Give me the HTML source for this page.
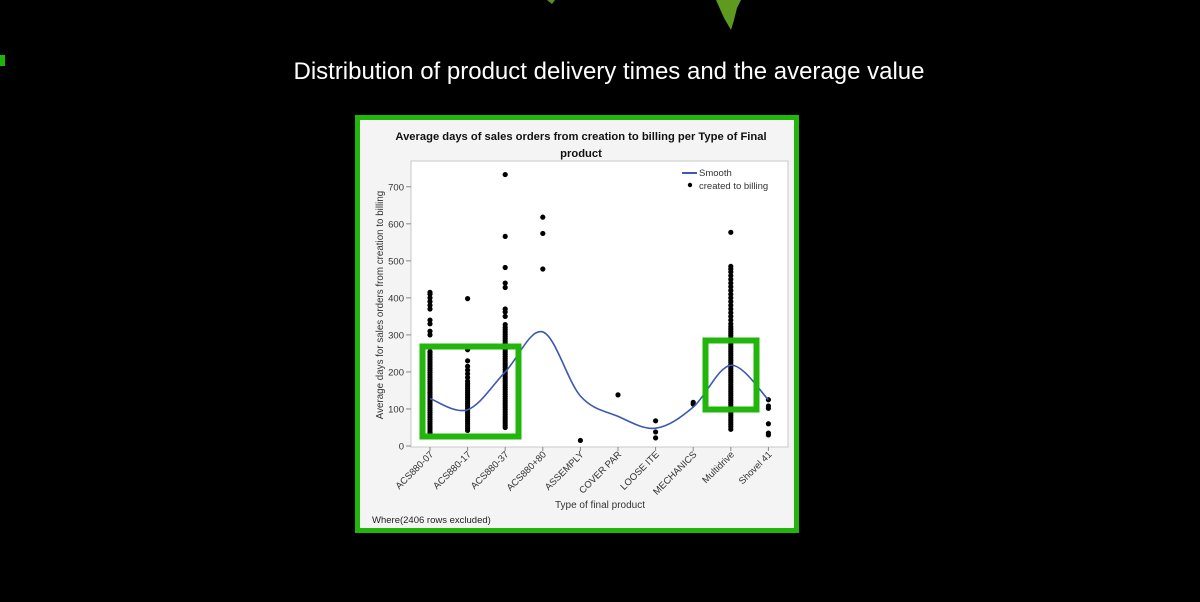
<!DOCTYPE html>
<html><head><meta charset="utf-8"><style>
html,body{margin:0;padding:0;background:#000;width:1200px;height:602px;overflow:hidden;font-family:"Liberation Sans",sans-serif}
</style></head><body>
<svg width="1200" height="602" xmlns="http://www.w3.org/2000/svg">
<rect x="0" y="0" width="1200" height="602" fill="#000"/>
<path d="M547,0 L555,0 L552,4 Z" fill="#5f8f22"/>
<path d="M716,0 L741,0 L737,8 L734,20 L731,30 L724,18 Z" fill="#5f9a20"/>
<rect x="0" y="55" width="5" height="11" fill="#1fb30b"/>
<text x="609" y="79" text-anchor="middle" fill="#fff" font-size="24">Distribution of product delivery times and the average value</text>
<rect x="357.5" y="117.5" width="439" height="413" fill="#f4f4f4" stroke="#22b50c" stroke-width="5"/>
<text x="581" y="140" text-anchor="middle" font-size="11.2" font-weight="bold" fill="#111">Average days of sales orders from creation to billing per Type of Final</text>
<text x="581" y="157" text-anchor="middle" font-size="11.2" font-weight="bold" fill="#111">product</text>
<rect x="411" y="161" width="377" height="286" fill="#fff" stroke="#c8c8c8"/>
<g id="yaxis"></g>
<g id="xaxis"></g>
<g id="dots"></g>
<path id="smooth" fill="none" stroke="#3c58b0" stroke-width="1.6"/>
<text x="383" y="305" transform="rotate(-90 383 305)" text-anchor="middle" font-size="9.8" fill="#333">Average days for sales orders from creation to billing</text>
<text x="600" y="508" text-anchor="middle" font-size="10" fill="#333">Type of final product</text>
<text x="372" y="523" font-size="9.5" fill="#222">Where(2406 rows excluded)</text>
<g>
<line x1="682" y1="173" x2="697" y2="173" stroke="#3c58b0" stroke-width="2"/>
<text x="699" y="176" font-size="9.5" fill="#333">Smooth</text>
<circle cx="690" cy="185" r="2.2" fill="#000"/>
<text x="699" y="189" font-size="9.5" fill="#333">created to billing</text>
</g>
<rect x="422.5" y="346.5" width="96" height="90" fill="none" stroke="#22b50c" stroke-width="6"/>
<rect x="705.5" y="340.5" width="51" height="69" fill="none" stroke="#22b50c" stroke-width="6"/>
</svg>
<script>
const categories=["ACS880-07","ACS880-17","ACS880-37","ACS880+80","ASSEMPLY","COVER PAR","LOOSE ITE","MECHANICS","Multidrive","Shovel 41"];
const smoothValues=[128,98,200,308,135,80,48,105,218,125];
const yTicks=[0,100,200,300,400,500,600,700];
const pts0=[30,36,42,48,54,60,66,72,78,84,90,96,102,108,114,120,126,132,138,144,150,156,162,168,174,180,186,192,198,204,210,216,222,228,234,240,246,252,255,300,310,330,340,370,380,390,400,410,415];
const pts1=[42,48,54,60,66,72,78,84,90,96,102,108,114,120,126,132,138,144,150,156,162,168,175,185,195,205,215,230,260,398];
const pts2=[50,56,62,68,74,80,86,92,98,104,110,116,122,128,134,140,146,152,158,164,170,176,182,188,194,200,206,212,218,224,230,236,242,248,254,260,266,272,278,284,290,296,302,308,314,320,328,350,362,370,428,440,482,566,733];
const pts3=[478,574,618];
const pts4=[15];
const pts5=[138];
const pts6=[22,38,68];
const pts7=[113,118];
const pts8=[45,52,58,64,70,76,82,88,94,100,106,112,118,124,130,136,142,148,154,160,166,172,178,184,190,196,202,208,214,220,226,232,238,244,250,256,262,268,274,280,286,292,298,304,310,316,322,330,340,350,360,370,380,390,400,410,420,430,440,450,460,470,478,485,577];
const pts9=[30,35,60,102,108,125];
const allPts=[pts0,pts1,pts2,pts3,pts4,pts5,pts6,pts7,pts8,pts9];
const NS="http://www.w3.org/2000/svg";
function xPos(i){return 430+i*37.6;}
function yPos(v){return 446-v*0.3703;}
const ya=document.getElementById('yaxis');
yTicks.forEach(t=>{
 const l=document.createElementNS(NS,'line');
 l.setAttribute('x1',406);l.setAttribute('x2',411);l.setAttribute('y1',yPos(t));l.setAttribute('y2',yPos(t));l.setAttribute('stroke','#888');
 
 
 ya.appendChild(l);
 const tx=document.createElementNS(NS,'text');
 tx.setAttribute('x',404);tx.setAttribute('y',yPos(t)+3.5);tx.setAttribute('text-anchor','end');tx.setAttribute('font-size','9.5');tx.setAttribute('fill','#333');
 tx.textContent=t;
 
 
 ya.appendChild(tx);
});
const xa=document.getElementById('xaxis');
categories.forEach((c,i)=>{
 const x=xPos(i);
 const l=document.createElementNS(NS,'line');
 l.setAttribute('x1',x);l.setAttribute('x2',x);l.setAttribute('y1',447);l.setAttribute('y2',451);l.setAttribute('stroke','#888');
 
 
 xa.appendChild(l);
 const tx=document.createElementNS(NS,'text');
 tx.setAttribute('x',x+4);tx.setAttribute('y',455);tx.setAttribute('text-anchor','end');tx.setAttribute('font-size','9.5');tx.setAttribute('fill','#333');
 tx.setAttribute('transform','rotate(-45 '+(x+4)+' 455)');
 tx.textContent=c;
 
 
 xa.appendChild(tx);
});
const dg=document.getElementById('dots');
allPts.forEach((arr,i)=>{arr.forEach(v=>{
 const c=document.createElementNS(NS,'circle');
 c.setAttribute('cx',xPos(i));c.setAttribute('cy',yPos(v));c.setAttribute('r',2.6);c.setAttribute('fill','#000');
 
 
 dg.appendChild(c);
});});
const P=smoothValues.map((v,i)=>[xPos(i),yPos(v)]);
let d='M'+P[0][0]+','+P[0][1];
for(let i=0;i<P.length-1;i++){
 const p0=P[i-1]||P[i],p1=P[i],p2=P[i+1],p3=P[i+2]||P[i+1];
 const c1=[p1[0]+(p2[0]-p0[0])/6,p1[1]+(p2[1]-p0[1])/6];
 const c2=[p2[0]-(p3[0]-p1[0])/6,p2[1]-(p3[1]-p1[1])/6];
 d+=' C'+c1+' '+c2+' '+p2;
}
document.getElementById('smooth').setAttribute('d',d);
</script>
</body></html>
